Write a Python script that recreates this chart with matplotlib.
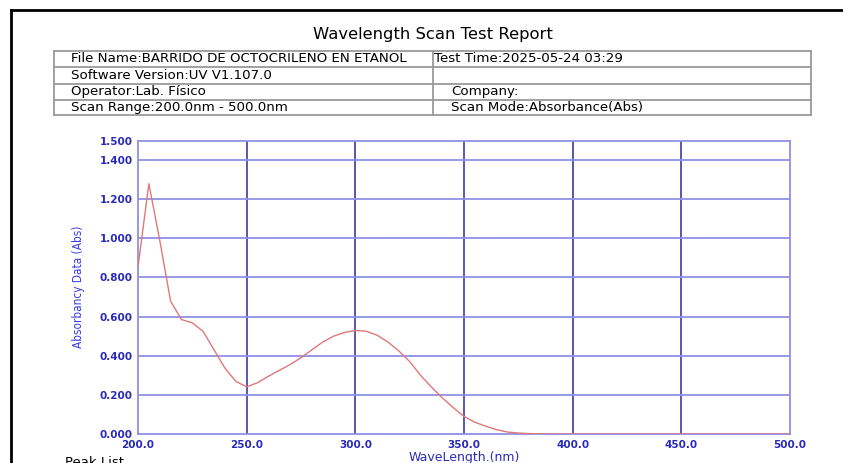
import matplotlib
matplotlib.use("Agg")
import matplotlib.pyplot as plt
from matplotlib.lines import Line2D

# scan data (5 nm steps)
wavelength = [200, 205, 210, 215, 220, 225, 230, 235, 240, 245, 250, 255, 260,
              265, 270, 275, 280, 285, 290, 295, 300, 305, 310, 315, 320, 325,
              330, 335, 340, 345, 350, 355, 360, 365, 370, 375, 380, 385, 390,
              400, 420, 450, 480, 500]
absorbance = [0.854, 1.279, 0.99, 0.679, 0.585, 0.568, 0.524, 0.43, 0.337, 0.269,
              0.241, 0.262, 0.295, 0.325, 0.355, 0.39, 0.43, 0.47, 0.50, 0.519,
              0.529, 0.525, 0.505, 0.47, 0.425, 0.37, 0.30, 0.24, 0.185, 0.135,
              0.09, 0.06, 0.04, 0.022, 0.01, 0.005, 0.002, 0.001, 0.0,
              0.0, 0.0, 0.0, 0.0, 0.0]

xticks = [200, 250, 300, 350, 400, 450, 500]
yticks = [0.0, 0.2, 0.4, 0.6, 0.8, 1.0, 1.2, 1.4, 1.5]

info_rows = [
    ("File Name:BARRIDO DE OCTOCRILENO EN ETANOL", "Test Time:2025-05-24 03:29"),
    ("Software Version:UV V1.107.0", ""),
    ("Operator:Lab. F\u00edsico", "Company:"),
    ("Scan Range:200.0nm - 500.0nm", "Scan Mode:Absorbance(Abs)"),
]

W, H = 843, 463
fig = plt.figure(figsize=(W / 100, H / 100), dpi=100)


def fx(px):
    return px / W


def fy(py):
    return 1 - py / H


def hline(y, x0, x1, **kw):
    fig.add_artist(Line2D([fx(x0), fx(x1)], [fy(y), fy(y)], **kw))


def vline(x, y0, y1, **kw):
    fig.add_artist(Line2D([fx(x), fx(x)], [fy(y0), fy(y1)], **kw))


# page border
hline(10, 11, W, color="black", lw=2)
vline(11, 10, H, color="black", lw=2)

fig.text(fx(433), fy(35), "Wavelength Scan Test Report", ha="center", va="center",
         fontsize=11.8, color="black")

# info table
row_y = [50.5, 67, 83.5, 99.5, 115]
tx0, tx1, tdiv = 54, 811, 433
tbl = dict(color="#9a9a9a", lw=1.3)
for y in row_y:
    hline(y, tx0, tx1, **tbl)
vline(tx0, row_y[0], row_y[-1], **tbl)
vline(tx1, row_y[0], row_y[-1], **tbl)
vline(tdiv, row_y[0], row_y[-1], **tbl)
for i, (left, right) in enumerate(info_rows):
    yc = (row_y[i] + row_y[i + 1]) / 2
    fig.text(fx(71), fy(yc), left, va="center", fontsize=9.6, color="black")
    xr = 434 if i == 0 else 451
    fig.text(fx(xr), fy(yc), right, va="center", fontsize=9.6, color="black")

# chart
ax = fig.add_axes([fx(138), fy(434), fx(790) - fx(138), fy(140.5) - fy(434)])
ax.plot(wavelength, absorbance, color="#e07878", lw=1.0, zorder=3)
ax.set_xlim(200, 500)
ax.set_ylim(0, 1.5)
ax.set_xticks(xticks)
ax.set_xticklabels([f"{v:.1f}" for v in xticks])
ax.set_yticks(yticks)
ax.set_yticklabels([f"{v:.3f}" for v in yticks])
ax.tick_params(length=0, labelsize=7.5, labelcolor="#2a2ab8", pad=4)
for lab in ax.get_xticklabels() + ax.get_yticklabels():
    lab.set_fontweight("bold")
for x in xticks[1:-1]:
    ax.axvline(x, color="#5858b4", lw=1.4, zorder=1)
for y in yticks[1:-1]:
    ax.axhline(y, color="#9090e4", lw=1.3, zorder=1)
for s in ax.spines.values():
    s.set_color("#9090e4")
    s.set_linewidth(1.3)

ax.set_xlabel("WaveLength.(nm)", fontsize=9, color="#2a2ab8", labelpad=1)
ax.set_ylabel("Absorbancy Data (Abs)", fontsize=8.5, color="#3a3ae0",
              fontstretch="condensed", labelpad=10)

fig.text(fx(65), fy(456), "Peak List", va="top", fontsize=9.5, color="black")

fig.savefig("out.png", dpi=100)
